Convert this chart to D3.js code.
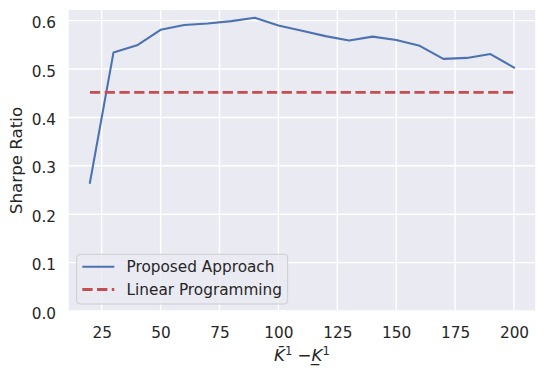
<!DOCTYPE html>
<html>
<head>
<meta charset="utf-8">
<script src="https://cdn.jsdelivr.net/npm/d3@7"></script>
<style>
  html, body { margin: 0; padding: 0; background: #ffffff; }
  svg { display: block; }
  text { font-family: "DejaVu Sans", sans-serif; fill: #262626; }
</style>
</head>
<body>
<svg id="chart" width="545" height="375"></svg>
<script>
// ---- data ----
const kValues = [20, 30, 40, 50, 60, 70, 80, 90, 100, 110, 120, 130, 140, 150, 160, 170, 180, 190, 200];
const proposedSharpe = [0.265, 0.534, 0.549, 0.581, 0.591, 0.594, 0.599, 0.606, 0.590, 0.579, 0.568, 0.559, 0.567, 0.560, 0.548, 0.521, 0.523, 0.531, 0.503];
const linearProgrammingSharpe = 0.452;
const xTicks = [25, 50, 75, 100, 125, 150, 175, 200];
const yTicks = [0.0, 0.1, 0.2, 0.3, 0.4, 0.5, 0.6];
const seriesNames = ["Proposed Approach", "Linear Programming"];
const colors = ["#4c72b0", "#c44e52"];

// ---- layout ----
const svg = d3.select("#chart");
const plot = { left: 68.7, right: 535.2, top: 10, bottom: 311 };

const x = d3.scaleLinear().domain([11, 209]).range([plot.left, plot.right]);
const y = d3.scaleLinear().domain([0, 0.622]).range([plot.bottom, plot.top]);

// background
svg.append("rect")
  .attr("x", plot.left).attr("y", plot.top)
  .attr("width", plot.right - plot.left).attr("height", plot.bottom - plot.top)
  .attr("fill", "#eaeaf2");

// grid
const grid = svg.append("g");
grid.selectAll("line.vx").data(xTicks).enter().append("line")
  .attr("x1", d => x(d)).attr("x2", d => x(d))
  .attr("y1", plot.top).attr("y2", plot.bottom)
  .attr("stroke", "#ffffff").attr("stroke-width", 1.4);
grid.selectAll("line.hy").data(yTicks).enter().append("line")
  .attr("x1", plot.left).attr("x2", plot.right)
  .attr("y1", d => y(d)).attr("y2", d => y(d))
  .attr("stroke", "#ffffff").attr("stroke-width", 1.4);

// axes (tick labels only)
const xAxis = d3.axisBottom(x).tickValues(xTicks).tickSize(0).tickPadding(0).tickFormat(d3.format("d"));
const gx = svg.append("g").attr("transform", `translate(0,${plot.bottom})`).call(xAxis);
gx.select(".domain").remove();
gx.selectAll("text")
  .attr("dy", null).attr("y", 26.7)
  .style("font-size", "15.3px").style("font-family", "DejaVu Sans").attr("fill", "#262626");

const yAxis = d3.axisLeft(y).tickValues(yTicks).tickSize(0).tickPadding(0).tickFormat(d3.format(".1f"));
const gy = svg.append("g").attr("transform", `translate(${plot.left},0)`).call(yAxis);
gy.select(".domain").remove();
gy.selectAll("text")
  .attr("dy", null).attr("x", -12.7).attr("y", 7)
  .style("font-size", "15.3px").style("font-family", "DejaVu Sans").attr("fill", "#262626");

// lines
const clip = svg.append("clipPath").attr("id", "clip").append("rect")
  .attr("x", plot.left).attr("y", plot.top)
  .attr("width", plot.right - plot.left).attr("height", plot.bottom - plot.top);

const proposedData = kValues.map((k, i) => ({ k: k, v: proposedSharpe[i] }));
const lpData = kValues.map(k => ({ k: k, v: linearProgrammingSharpe }));
const lineGen = d3.line().x(d => x(d.k)).y(d => y(d.v));

const lines = svg.append("g").attr("clip-path", "url(#clip)");
lines.append("path").datum(proposedData)
  .attr("d", lineGen).attr("fill", "none")
  .attr("stroke", colors[0]).attr("stroke-width", 2.08)
  .attr("stroke-linejoin", "round").attr("stroke-linecap", "square");
lines.append("path").datum(lpData)
  .attr("d", lineGen).attr("fill", "none")
  .attr("stroke", colors[1]).attr("stroke-width", 2.78)
  .attr("stroke-dasharray", "10.3,4.45");

// legend
const legend = svg.append("g");
legend.append("rect")
  .attr("x", 76.7).attr("y", 254.3).attr("width", 211).attr("height", 49.7)
  .attr("rx", 3.5).attr("ry", 3.5)
  .attr("fill", "#eaeaf2").attr("fill-opacity", 0.8)
  .attr("stroke", "#cccccc").attr("stroke-width", 1);
const legendRows = [
  { name: seriesNames[0], color: colors[0], dash: null, width: 2.08, cy: 266.7 },
  { name: seriesNames[1], color: colors[1], dash: "10.3,4.45", width: 2.78, cy: 289.5 }
];
legendRows.forEach(r => {
  legend.append("line")
    .attr("x1", 82.3).attr("x2", 114.3).attr("y1", r.cy).attr("y2", r.cy)
    .attr("stroke", r.color).attr("stroke-width", r.width)
    .attr("stroke-dasharray", r.dash);
  legend.append("text")
    .attr("x", 126.5).attr("y", r.cy + 5.6)
    .style("font-size", "15.3px")
    .text(r.name);
});

// axis labels
svg.append("text")
  .attr("transform", `translate(22,${(plot.top + plot.bottom) / 2}) rotate(-90)`)
  .attr("text-anchor", "middle")
  .style("font-size", "16.7px")
  .text("Sharpe Ratio");

const xl = svg.append("text")
  .attr("x", (plot.left + plot.right) / 2).attr("y", 360.7)
  .attr("text-anchor", "middle")
  .style("font-size", "16.7px");
xl.append("tspan").style("font-style", "italic").text("K\u0304");
xl.append("tspan").attr("dy", -6).style("font-size", "11.5px").text("1");
xl.append("tspan").attr("dy", 6).text(" \u2212");
xl.append("tspan").style("font-style", "italic").text("K\u0332");
xl.append("tspan").attr("dy", -6).style("font-size", "11.5px").text("1");
</script>
</body>
</html>
